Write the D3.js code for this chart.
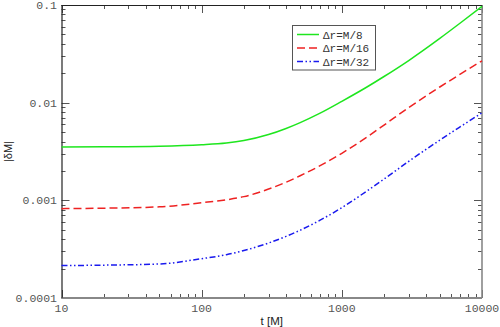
<!DOCTYPE html>
<html><head><meta charset="utf-8">
<script src="https://cdn.jsdelivr.net/npm/d3@7"></script>
<style>body{margin:0;background:#fff}svg{display:block}</style>
</head><body>
<svg id="c" width="500" height="327"></svg>
<script>
const tValues = [10,20,50,100,150,200,300,400,500,700,1000,1500,2000,3000,5000,7000,10000];
const seriesM8  = [0.003524,0.003536,0.003585,0.003711,0.003865,0.004094,0.004718,0.005446,0.006215,0.007811,0.01032,0.01438,0.01853,0.02701,0.0455,0.06541,0.09687];
const seriesM16 = [0.0008222,0.0008308,0.0008578,0.0009452,0.0010125,0.001091,0.001304,0.001532,0.001776,0.002262,0.00303,0.004418,0.005892,0.008906,0.01447,0.01959,0.02682];
const seriesM32 = [0.0002148,0.000217,0.000223,0.0002527,0.0002774,0.0003059,0.0003656,0.0004271,0.0004916,0.0006262,0.0008421,0.001238,0.001651,0.002506,0.004135,0.00567,0.007876];
const seriesNames = ["\u0394r=M/8","\u0394r=M/16","\u0394r=M/32"];
const xTickLabels = ["10","100","1000","10000"];
const yTickLabels = ["0.0001","0.001","0.01","0.1"];

const svg = d3.select("#c");
const L=61.5, R=482, T=5, B=298;
const x = d3.scaleLog().domain([10,10000]).range([L,R]);
const y = d3.scaleLog().domain([1e-4,0.1]).range([B,T]);
const mono = "'Liberation Mono','DejaVu Sans Mono',monospace";

const isMajor = v => Math.abs(Math.log10(v) - Math.round(Math.log10(v))) < 1e-9;

// ticks
const g = svg.append("g").attr("stroke","#555").attr("stroke-width",1);
x.ticks().forEach(v=>{
  const px = Math.round(x(v))+0.5, len = isMajor(v)?8:4;
  g.append("line").attr("x1",px).attr("x2",px).attr("y1",B).attr("y2",B-len);
  g.append("line").attr("x1",px).attr("x2",px).attr("y1",T).attr("y2",T+len);
});
y.ticks().forEach(v=>{
  const py = Math.round(y(v))+0.5, len = isMajor(v)?8:4;
  g.append("line").attr("x1",L).attr("x2",L+len).attr("y1",py).attr("y2",py);
  g.append("line").attr("x1",R).attr("x2",R-len).attr("y1",py).attr("y2",py);
});

// frame
svg.append("line").attr("x1",L).attr("x2",R).attr("y1",B).attr("y2",B).attr("stroke","#888").attr("stroke-width",2);
svg.append("line").attr("x1",R).attr("x2",R).attr("y1",T).attr("y2",B).attr("stroke","#888").attr("stroke-width",1.6);
svg.append("line").attr("x1",L).attr("x2",R).attr("y1",T+0.5).attr("y2",T+0.5).attr("stroke","#222").attr("stroke-width",1);
svg.append("line").attr("x1",L+0.5).attr("x2",L+0.5).attr("y1",T).attr("y2",B).attr("stroke","#222").attr("stroke-width",1.2);

// tick labels
xTickLabels.forEach(s=>{
  svg.append("text").attr("x",x(+s)).attr("y",312).attr("text-anchor","middle")
    .attr("font-family",mono).attr("font-size",11.5).attr("fill","#555").text(s);
});
yTickLabels.forEach(s=>{
  svg.append("text").attr("x",57).attr("y",y(+s)+4).attr("text-anchor","end")
    .attr("font-family",mono).attr("font-size",11.5).attr("fill","#555").text(s);
});

// axis titles
svg.append("text").attr("x",(L+R)/2).attr("y",325).attr("text-anchor","middle")
  .attr("font-family","'Liberation Sans',Arial,sans-serif").attr("font-size",11.5).attr("fill","#222").text("t [M]");
svg.append("text").attr("transform",`translate(12,${(T+B)/2}) rotate(-90)`).attr("text-anchor","middle")
  .attr("font-family","'Liberation Sans',Arial,sans-serif").attr("font-size",11).attr("fill","#222").text("|\u03b4M|");

// lines
const styles = [
  {color:"#1ee61e", dash:null},
  {color:"#ee2222", dash:"8,4"},
  {color:"#1a1aee", dash:"6,2.5,1.5,2.5,1.5,2.5"}
];
const allSeries = [seriesM8, seriesM16, seriesM32];
const line = d3.line().x(d=>x(d[0])).y(d=>y(d[1])).curve(d3.curveMonotoneX);
allSeries.forEach((s,i)=>{
  svg.append("path").datum(tValues.map((t,j)=>[t,s[j]])).attr("d",line)
    .attr("fill","none").attr("stroke",styles[i].color).attr("stroke-width",1.5)
    .attr("stroke-dasharray",styles[i].dash);
});

// legend
const lg = svg.append("g");
lg.append("rect").attr("x",292.5).attr("y",25.5).attr("width",83).attr("height",44.5)
  .attr("fill","#fff").attr("stroke","#555").attr("stroke-width",1);
seriesNames.forEach((n,i)=>{
  const yy = 34.5 + i*13.5;
  lg.append("line").attr("x1",297).attr("x2",319).attr("y1",yy).attr("y2",yy)
    .attr("stroke",styles[i].color).attr("stroke-width",1.5).attr("stroke-dasharray",styles[i].dash);
  lg.append("text").attr("x",323).attr("y",yy+4).attr("font-family",mono).attr("font-size",11)
    .attr("fill","#333").text(n);
});
</script>
</body></html>
